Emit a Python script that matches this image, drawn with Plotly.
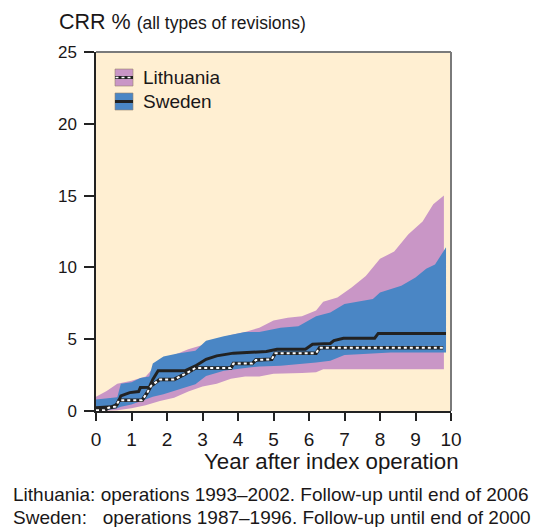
import plotly.graph_objects as go

# ---------------- data ----------------
lt_band_years = [0, 0.3, 0.6, 1.0, 1.4, 1.8, 2.2, 2.6, 3.0, 3.4, 3.8, 4.2, 4.6, 5.0,
                 5.4, 5.8, 6.2, 6.4, 6.8, 7.2, 7.6, 8.0, 8.4, 8.8, 9.2, 9.5, 9.8]
lt_upper = [1.0, 1.4, 1.9, 2.1, 2.4, 3.5, 3.9, 4.3, 4.6, 5.0, 5.3, 5.5, 5.8, 6.3,
            6.5, 6.6, 7.0, 7.6, 7.9, 8.6, 9.4, 10.6, 11.1, 12.3, 13.2, 14.4, 15.0]
lt_lower = [0.0, 0.0, 0.05, 0.2, 0.4, 0.7, 0.93, 1.35, 1.7, 1.9, 2.25, 2.4, 2.4, 2.6,
            2.6, 2.65, 2.7, 2.9, 2.9, 2.9, 2.9, 2.9, 2.9, 2.9, 2.9, 2.9, 2.9]

sw_band_years = [0, 0.3, 0.6, 0.7, 1.0, 1.25, 1.5, 1.6, 1.9, 2.3, 2.8, 3.1, 3.6, 4.2,
                 4.6, 5.2, 5.7, 6.2, 6.6, 7.0, 7.4, 7.8, 8.0, 8.3, 8.6, 9.0, 9.3, 9.55, 9.86]
sw_upper = [0.8, 0.85, 0.95, 1.9, 2.0, 2.3, 2.4, 3.3, 3.8, 4.0, 4.2, 4.9, 5.2, 5.5,
            5.5, 5.8, 5.9, 6.6, 6.86, 7.45, 7.6, 7.8, 8.26, 8.5, 8.73, 9.3, 9.9, 10.2, 11.4]
sw_lower = [0.0, 0.05, 0.2, 0.3, 0.45, 0.7, 0.93, 1.0, 1.17, 1.5, 1.86, 2.44, 2.8, 3.0,
            3.1, 3.15, 3.25, 3.37, 3.5, 3.9, 3.95, 4.0, 4.07, 4.07, 4.07, 4.07, 4.07, 4.07, 4.07]

sw_line_years = [0, 0.45, 0.6, 0.7, 0.95, 1.2, 1.25, 1.5, 1.6, 1.75, 2.5, 2.8, 3.1, 3.4,
                 3.87, 4.8, 5.1, 5.9, 6.1, 6.6, 6.7, 6.97, 7.85, 7.95, 9.86]
sw_line = [0.23, 0.3, 0.47, 1.05, 1.28, 1.35, 1.63, 1.65, 2.2, 2.8, 2.8, 3.14, 3.6, 3.84,
           4.03, 4.14, 4.3, 4.3, 4.65, 4.7, 4.9, 5.07, 5.07, 5.4, 5.4]

lt_line_years = [0, 0.25, 0.35, 0.55, 0.65, 1.3, 1.45, 1.55, 1.8, 2.2, 2.5, 2.8, 3.8,
                 3.87, 4.4, 4.5, 4.95, 5.05, 6.2, 6.3, 9.78]
lt_line = [0.05, 0.05, 0.23, 0.3, 0.75, 0.75, 1.3, 1.75, 2.2, 2.2, 2.56, 3.0, 3.0,
           3.3, 3.3, 3.55, 3.6, 4.03, 4.03, 4.4, 4.4]

x_ticks = [0, 1, 2, 3, 4, 5, 6, 7, 8, 9, 10]
y_ticks = [0, 5, 10, 15, 20, 25]
legend_names = ["Lithuania", "Sweden"]

# ---------------- styling ----------------
FONT = "Liberation Sans, Arial, Helvetica, sans-serif"
TXT = "#1a1718"
PINK = "rgb(201,150,198)"
BLUE = "rgb(74,134,197)"
BG = "rgb(255,239,210)"

OFF = 8                      # page body margin offset
W, H = 540 - OFF, 527 - OFF
ML, MT = 96 - OFF, 52 - OFF
PW, PH = 355, 359
MR = W - ML - PW
MB = H - MT - PH


def px(xr):
    """reference-image x pixel -> paper coordinate"""
    return (xr - OFF - ML) / PW


def py(yr):
    """reference-image y pixel -> paper coordinate"""
    return (MT + PH - (yr - OFF)) / PH


fig = go.Figure()

# Lithuania band
fig.add_trace(go.Scatter(x=lt_band_years, y=lt_lower, mode="lines",
                         line=dict(width=0, color=PINK), showlegend=False, hoverinfo="skip"))
fig.add_trace(go.Scatter(x=lt_band_years, y=lt_upper, mode="lines", fill="tonexty",
                         fillcolor=PINK, line=dict(width=0, color=PINK),
                         showlegend=False, hoverinfo="skip"))
# Sweden band
fig.add_trace(go.Scatter(x=sw_band_years, y=sw_lower, mode="lines",
                         line=dict(width=0, color=BLUE), showlegend=False, hoverinfo="skip"))
fig.add_trace(go.Scatter(x=sw_band_years, y=sw_upper, mode="lines", fill="tonexty",
                         fillcolor=BLUE, line=dict(width=0, color=BLUE),
                         showlegend=False, hoverinfo="skip"))
# Sweden line
fig.add_trace(go.Scatter(x=sw_line_years, y=sw_line, mode="lines",
                         line=dict(width=3, color="#222"), showlegend=False))
# Lithuania line (black with white dots)
fig.add_trace(go.Scatter(x=lt_line_years, y=lt_line, mode="lines",
                         line=dict(width=3.5, color="#222"), showlegend=False))
fig.add_trace(go.Scatter(x=lt_line_years, y=lt_line, mode="lines",
                         line=dict(width=2, color="white", dash="dot"), showlegend=False))

shapes = [
    dict(type="line", xref="paper", yref="paper", x0=0, x1=1, y0=1, y1=1,
         line=dict(color="#7a7a7a", width=2)),
    dict(type="line", xref="paper", yref="paper", x0=1, x1=1, y0=0, y1=1,
         line=dict(color="#7a7a7a", width=2)),
]

# manual legend
legend_rows = [(legend_names[0], PINK, 69, 86), (legend_names[1], BLUE, 93, 110)]
annotations = []
for i, (name, col, top, bot) in enumerate(legend_rows):
    shapes.append(dict(type="rect", xref="paper", yref="paper",
                       x0=px(115), x1=px(133), y0=py(bot), y1=py(top),
                       fillcolor=col, line=dict(color="rgba(150,130,110,0.6)", width=1)))
    mid = (top + bot) / 2
    shapes.append(dict(type="line", xref="paper", yref="paper",
                       x0=px(115), x1=px(133), y0=py(mid), y1=py(mid),
                       line=dict(color="#222", width=3)))
    if i == 0:
        shapes.append(dict(type="line", xref="paper", yref="paper",
                           x0=px(115.5), x1=px(132.5), y0=py(mid), y1=py(mid),
                           line=dict(color="white", width=1.5, dash="dot")))
    annotations.append(dict(text=name, xref="paper", yref="paper", x=px(141), y=py(mid),
                            xanchor="left", yanchor="middle", showarrow=False,
                            font=dict(size=19, color=TXT, family=FONT)))

annotations += [
    dict(text="CRR % <span style='font-size:17.5px'>(all types of revisions)</span>",
         xref="paper", yref="paper", x=px(57), y=py(22), xanchor="left", yanchor="middle",
         showarrow=False, font=dict(size=21.5, color=TXT, family=FONT)),
    dict(text="Year after index operation", xref="paper", yref="paper",
         x=px(331), y=py(461), xanchor="center", yanchor="middle", showarrow=False,
         font=dict(size=22.3, color=TXT, family=FONT)),
    dict(text="Lithuania: operations 1993\u20132002. Follow-up until end of 2006",
         xref="paper", yref="paper", x=px(11), y=py(494), xanchor="left", yanchor="middle",
         showarrow=False, font=dict(size=19, color=TXT, family=FONT)),
    dict(text="Sweden:\u00a0\u00a0 operations 1987\u20131996. Follow-up until end of 2000",
         xref="paper", yref="paper", x=px(11), y=py(517), xanchor="left", yanchor="middle",
         showarrow=False, font=dict(size=19, color=TXT, family=FONT)),
]

fig.update_layout(
    width=W, height=H,
    margin=dict(l=ML, r=MR, t=MT, b=MB, pad=0),
    paper_bgcolor="white", plot_bgcolor=BG,
    showlegend=False,
    shapes=shapes, annotations=annotations,
    font=dict(family=FONT, color=TXT),
)
fig.update_xaxes(range=[0, 10], tickvals=x_ticks, ticktext=[str(v) for v in x_ticks],
                 showgrid=False, zeroline=False, showline=True, linecolor="#222",
                 linewidth=1.5, ticks="outside", ticklen=8, tickwidth=1.5, tickcolor="#222",
                 ticklabelstandoff=2,
                 tickfont=dict(size=19, color=TXT, family=FONT), fixedrange=True)
fig.update_yaxes(range=[0, 25], tickvals=y_ticks, ticktext=[str(v) for v in y_ticks],
                 showgrid=False, zeroline=False, showline=True, linecolor="#222",
                 linewidth=1.5, ticks="outside", ticklen=10, tickwidth=1.5, tickcolor="#222",
                 ticklabelstandoff=4,
                 tickfont=dict(size=17, color=TXT, family=FONT), fixedrange=True)

fig.write_html("out.html")
